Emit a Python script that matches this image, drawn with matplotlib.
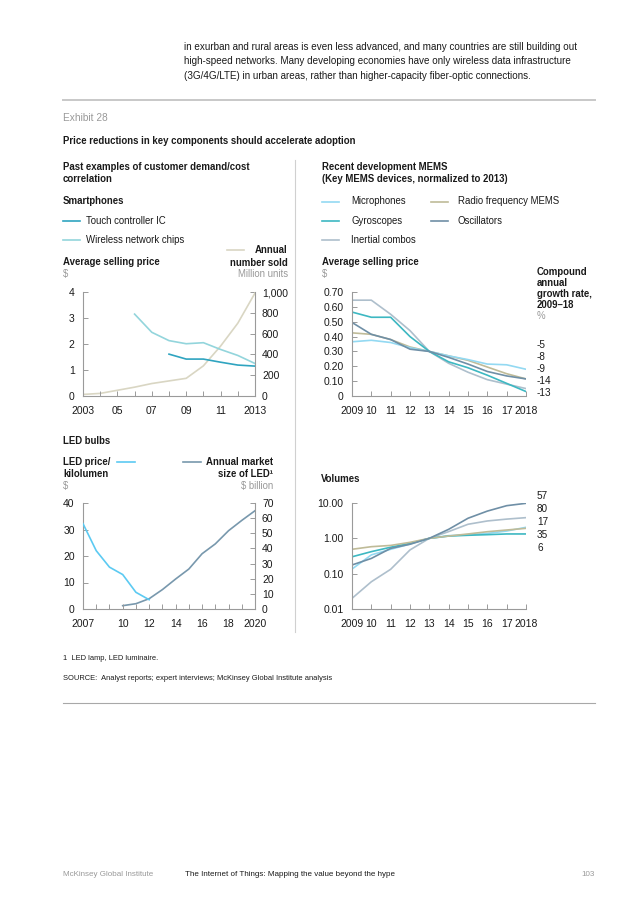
import matplotlib
matplotlib.use('Agg')
import matplotlib.pyplot as plt
from matplotlib.lines import Line2D

plt.rcParams['font.family'] = ['Liberation Sans', 'DejaVu Sans']

# ---------------- data ----------------
phone_years = list(range(2003, 2014))
phone_tick_years = [2003, 2005, 2007, 2009, 2011, 2013]
phone_tick_labels = ['2003', '05', '07', '09', '11', '2013']
units_sold = [15, 25, 55, 85, 120, 145, 170, 290, 480, 700, 990]
wireless_years = list(range(2006, 2014))
wireless_price = [3.15, 2.45, 2.13, 2.01, 2.05, 1.79, 1.56, 1.25]
touch_years = list(range(2008, 2014))
touch_price = [1.61, 1.42, 1.42, 1.30, 1.19, 1.15]
phone_left_ticks = [0, 1, 2, 3, 4]
phone_right_ticks = [0, 200, 400, 600, 800, 1000]
phone_right_labels = ['0', '200', '400', '600', '800', '1,000']

mems_years = list(range(2009, 2019))
mems_tick_labels = ['2009', '10', '11', '12', '13', '14', '15', '16', '17', '2018']
mic_price = [0.365, 0.375, 0.36, 0.325, 0.30, 0.27, 0.245, 0.215, 0.21, 0.18]
rf_price = [0.425, 0.415, 0.38, 0.33, 0.30, 0.27, 0.24, 0.195, 0.15, 0.115]
gyro_price = [0.565, 0.53, 0.53, 0.40, 0.30, 0.23, 0.19, 0.14, 0.085, 0.03]
osc_price = [0.495, 0.415, 0.38, 0.315, 0.30, 0.26, 0.215, 0.165, 0.135, 0.115]
inertial_price = [0.645, 0.645, 0.55, 0.44, 0.30, 0.22, 0.16, 0.11, 0.08, 0.05]
price_ticks = [0, 0.1, 0.2, 0.3, 0.4, 0.5, 0.6, 0.7]
price_tick_labels = ['0', '0.10', '0.20', '0.30', '0.40', '0.50', '0.60', '0.70']
cagr_labels = ['-5', '-8', '-9', '-14', '-13']

mic_vol = [0.135, 0.34, 0.49, 0.69, 1.0, 1.19, 1.27, 1.38, 1.61, 2.05]
rf_vol = [0.49, 0.58, 0.63, 0.77, 1.0, 1.16, 1.33, 1.54, 1.72, 1.92]
gyro_vol = [0.30, 0.42, 0.56, 0.72, 1.0, 1.16, 1.22, 1.27, 1.33, 1.33]
osc_vol = [0.176, 0.27, 0.52, 0.68, 1.0, 1.8, 3.7, 5.9, 8.4, 9.8]
inertial_vol = [0.020, 0.059, 0.133, 0.47, 1.0, 1.55, 2.5, 3.1, 3.5, 3.85]
vol_ticks = [0.01, 0.1, 1, 10]
vol_tick_labels = ['0.01', '0.10', '1.00', '10.00']
vol_labels = ['57', '80', '17', '35', '6']

led_years = list(range(2007, 2021))
led_tick_years = [2007, 2010, 2012, 2014, 2016, 2018, 2020]
led_tick_labels = ['2007', '10', '12', '14', '16', '18', '2020']
led_price_years = list(range(2007, 2013))
led_price = [32.2, 22.0, 15.8, 13.0, 6.3, 3.5]
led_market_years = list(range(2010, 2021))
led_market = [2.2, 3.5, 6.8, 12.8, 19.8, 26.4, 36.5, 43.0, 51.7, 58.5, 64.9]
led_left_ticks = [0, 10, 20, 30, 40]
led_right_ticks = [0, 10, 20, 30, 40, 50, 60, 70]

# ---------------- style ----------------
C_TOUCH = '#2fa4c0'
C_WIRELESS = '#93d5dc'
C_SOLD = '#d9d6c3'
C_MIC = '#93d9f2'
C_RF = '#bfbb98'
C_GYRO = '#3db8c2'
C_OSC = '#6f8fa6'
C_INERT = '#aebfcc'
C_LEDP = '#5ccaf2'
C_LEDM = '#7898ad'
AX_C = '#9a9a9a'
TXT = '#1a1a1a'
GRAY = '#999999'
LW = 1.2
FS = 6.9     # label text
TFS = 7.5    # tick labels

W, H = 636, 900
fig = plt.figure(figsize=(6.36, 9), dpi=100)


def fx(x):
    return x / W


def fy(y):
    return 1 - y / H


def txt(x, y, s, size=FS, color=TXT, weight='normal', ha='left', va='center'):
    fig.text(fx(x), fy(y), s, fontsize=size, color=color, fontweight=weight,
             ha=ha, va=va)


def hline(x0, x1, y, color, lw):
    fig.add_artist(Line2D([fx(x0), fx(x1)], [fy(y), fy(y)], color=color, lw=lw,
                          transform=fig.transFigure))


def vline(x, y0, y1, color, lw):
    fig.add_artist(Line2D([fx(x), fx(x)], [fy(y0), fy(y1)], color=color, lw=lw,
                          transform=fig.transFigure))


def make_axes(x0, y0, x1, y1):
    ax = fig.add_axes([fx(x0), fy(y1), (x1 - x0) / W, (y1 - y0) / H])
    ax.patch.set_alpha(0)
    for s in ['top', 'right']:
        ax.spines[s].set_visible(False)
    for s in ['left', 'bottom']:
        ax.spines[s].set_color(AX_C)
        ax.spines[s].set_linewidth(0.8)
    ax.tick_params(which='both', direction='in', length=3.5, width=0.7, color=AX_C,
                   labelcolor=TXT, labelsize=TFS)
    ax.tick_params(axis='x', which='both', pad=7.5)
    ax.tick_params(axis='y', pad=6)
    return ax


def style_right(ax2):
    for s in ['top', 'left', 'bottom']:
        ax2.spines[s].set_visible(False)
    ax2.spines['right'].set_color(AX_C)
    ax2.spines['right'].set_linewidth(0.8)
    ax2.tick_params(direction='in', length=3.5, width=0.7, color=AX_C,
                    labelcolor=TXT, labelsize=TFS, pad=5)


# ---------------- page text ----------------
body = ['in exurban and rural areas is even less advanced, and many countries are still building out',
        'high-speed networks. Many developing economies have only wireless data infrastructure',
        '(3G/4G/LTE) in urban areas, rather than higher-capacity fiber-optic connections.']
for i, line in enumerate(body):
    txt(184, 47 + 14.5 * i, line, size=7.1)

hline(63, 595, 99.5, '#c8c8c8', 1.4)
txt(63, 118.5, 'Exhibit 28', color=GRAY, size=7.3)
txt(63, 141, 'Price reductions in key components should accelerate adoption', weight='bold', size=6.95)

vline(294.5, 160, 632, '#d0d0d0', 0.8)

txt(63, 167.5, 'Past examples of customer demand/cost', weight='bold')
txt(63, 179.5, 'correlation', weight='bold')
txt(322, 167.5, 'Recent development MEMS', weight='bold')
txt(322, 179.5, '(Key MEMS devices, normalized to 2013)', weight='bold')

txt(63, 201, 'Smartphones', weight='bold')
hline(63, 80, 221, C_TOUCH, LW)
txt(86, 221, 'Touch controller IC')
hline(63, 80, 239.5, C_WIRELESS, LW)
txt(86, 239.5, 'Wireless network chips')

hline(322, 339, 201.5, C_MIC, LW)
txt(351, 201.5, 'Microphones')
hline(431, 448, 201.5, C_RF, LW)
txt(458, 201.5, 'Radio frequency MEMS')
hline(322, 339, 220.5, C_GYRO, LW)
txt(351, 220.5, 'Gyroscopes')
hline(431, 448, 220.5, C_OSC, LW)
txt(458, 220.5, 'Oscillators')
hline(322, 339, 239.5, C_INERT, LW)
txt(351, 239.5, 'Inertial combos')

hline(227, 244, 250, C_SOLD, LW)
txt(288, 250, 'Annual', weight='bold', ha='right')
txt(288, 262.5, 'number sold', weight='bold', ha='right')
txt(288, 274, 'Million units', color=GRAY, ha='right')
txt(63, 262, 'Average selling price', weight='bold')
txt(63, 274, '$', color=GRAY)

txt(322, 262, 'Average selling price', weight='bold')
txt(322, 274, '$', color=GRAY)
for i, s in enumerate(['Compound', 'annual', 'growth rate,', '2009\u201318']):
    txt(537, 272 + 11 * i, s, weight='bold')
txt(537, 316, '%', color=GRAY)
for i, s in enumerate(cagr_labels):
    txt(537, 345 + 12 * i, s, size=7.2)

txt(63, 441, 'LED bulbs', weight='bold')
txt(63, 462.5, 'LED price/', weight='bold')
txt(63, 474, 'kilolumen', weight='bold')
txt(63, 486, '$', color=GRAY)
hline(117, 135, 462, C_LEDP, LW)
hline(183, 201, 462, C_LEDM, LW)
txt(273, 462.5, 'Annual market', weight='bold', ha='right')
txt(273, 474, 'size of LED\u00b9', weight='bold', ha='right')
txt(273, 486, '$ billion', color=GRAY, ha='right')

txt(321, 479, 'Volumes', weight='bold')
for i, s in enumerate(vol_labels):
    txt(537, 496 + 13 * i, s, size=7.2)

txt(63, 658, '1  LED lamp, LED luminaire.', size=5.4)
txt(63, 679, 'SOURCE:  Analyst reports; expert interviews; McKinsey Global Institute analysis', size=5.4)
hline(63, 595, 703, '#a8a8a8', 0.8)

txt(63, 874, 'McKinsey Global Institute', color=GRAY, size=5.8)
txt(185, 874, 'The Internet of Things: Mapping the value beyond the hype', size=5.8)
txt(595, 874, '103', color=GRAY, size=5.8, ha='right')

# ---------------- smartphones ----------------
ax = make_axes(83, 292, 255, 396)
ax.plot(wireless_years, wireless_price, color=C_WIRELESS, lw=LW, zorder=3)
ax.plot(touch_years, touch_price, color=C_TOUCH, lw=LW, zorder=4)
ax.set_xlim(2003, 2013)
ax.set_ylim(0, 4)
ax.set_xticks(phone_years, minor=True)
ax.set_xticks(phone_tick_years)
ax.set_xticklabels(phone_tick_labels)
ax.set_yticks(phone_left_ticks)
ax.set_yticklabels([str(v) for v in phone_left_ticks])
ax2 = ax.twinx()
style_right(ax2)
ax2.plot(phone_years, units_sold, color=C_SOLD, lw=LW, zorder=2)
ax2.set_ylim(0, 1000)
ax2.set_yticks(phone_right_ticks)
ax2.set_yticklabels(phone_right_labels)
ax2.set_zorder(ax.get_zorder() - 1)

# ---------------- MEMS price ----------------
ax = make_axes(352, 292, 526, 396)
for vals, c in [(inertial_price, C_INERT), (rf_price, C_RF), (mic_price, C_MIC),
                (gyro_price, C_GYRO), (osc_price, C_OSC)]:
    ax.plot(mems_years, vals, color=c, lw=LW)
ax.set_xlim(2009, 2018)
ax.set_ylim(0, 0.7)
ax.set_xticks(mems_years)
ax.set_xticklabels(mems_tick_labels)
ax.set_yticks(price_ticks)
ax.set_yticklabels(price_tick_labels)

# ---------------- LED ----------------
ax = make_axes(83, 503, 255, 609)
ax.plot(led_price_years, led_price, color=C_LEDP, lw=LW, zorder=4)
ax.set_xlim(2007, 2020)
ax.set_ylim(0, 40)
ax.set_xticks(led_years, minor=True)
ax.set_xticks(led_tick_years)
ax.set_xticklabels(led_tick_labels)
ax.set_yticks(led_left_ticks)
ax.set_yticklabels([str(v) for v in led_left_ticks])
ax2 = ax.twinx()
style_right(ax2)
ax2.plot(led_market_years, led_market, color=C_LEDM, lw=LW)
ax2.set_ylim(0, 70)
ax2.set_yticks(led_right_ticks)
ax2.set_yticklabels([str(v) for v in led_right_ticks])
ax2.set_zorder(ax.get_zorder() - 1)

# ---------------- MEMS volumes ----------------
ax = make_axes(352, 503, 526, 609)
for vals, c in [(inertial_vol, C_INERT), (mic_vol, C_MIC), (gyro_vol, C_GYRO),
                (rf_vol, C_RF), (osc_vol, C_OSC)]:
    ax.plot(mems_years, vals, color=c, lw=LW)
ax.set_yscale('log')
ax.set_xlim(2009, 2018)
ax.set_ylim(0.01, 10)
ax.set_xticks(mems_years)
ax.set_xticklabels(mems_tick_labels)
ax.set_yticks(vol_ticks)
ax.set_yticklabels(vol_tick_labels)
ax.yaxis.set_minor_locator(matplotlib.ticker.NullLocator())

fig.savefig('out.png', dpi=100)
